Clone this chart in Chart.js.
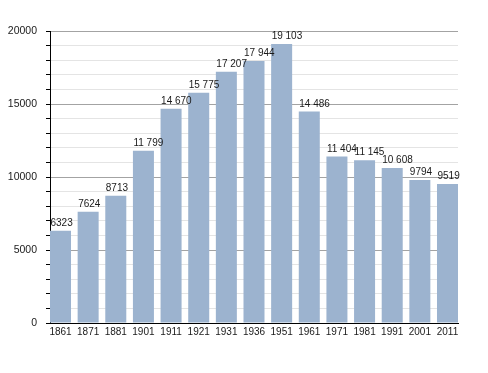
<!DOCTYPE html>
<html lang="en">
<head>
    <meta charset="UTF-8">
    <title>Population</title>
    <script src="https://cdn.jsdelivr.net/npm/chart.js"></script>
    <style>
        body { margin: 0; background: #fff; }
        #wrap { width: 488px; height: 373px; }
    </style>
</head>
<body>
    <div id="wrap"><canvas id="popChart" width="488" height="373"></canvas></div>

    <script>
        // census years and population
        const years = ['1861', '1871', '1881', '1901', '1911', '1921', '1931', '1936', '1951', '1961', '1971', '1981', '1991', '2001', '2011'];
        const population = [6323, 7624, 8713, 11799, 14670, 15775, 17207, 17944, 19103, 14486, 11404, 11145, 10608, 9794, 9519];
        const yTicks = [0, 5000, 10000, 15000, 20000];

        function fmt(v) {
            if (v < 10000) return String(v);
            const s = String(v);
            return s.slice(0, s.length - 3) + ' ' + s.slice(-3);
        }

        // value labels, left aligned on each bar
        const valueLabels = {
            id: 'valueLabels',
            afterDatasetsDraw(chart) {
                const ctx = chart.ctx;
                const meta = chart.getDatasetMeta(0);
                ctx.save();
                ctx.font = '10px "Liberation Sans", Arial, sans-serif';
                ctx.fillStyle = '#1a1a1a';
                ctx.textAlign = 'left';
                ctx.textBaseline = 'alphabetic';
                meta.data.forEach((bar, i) => {
                    ctx.fillText(fmt(population[i]), bar.x - bar.width / 2 + 0.5, bar.y - 5);
                });
                ctx.restore();
            }
        };

        const chart = new Chart(document.getElementById('popChart'), {
            type: 'bar',
            data: {
                datasets: [{
                    data: population.map((v, i) => ({ x: i, y: v })),
                    backgroundColor: '#9cb3cf',
                    borderWidth: 0,
                    categoryPercentage: 1,
                    barPercentage: 0.76
                }]
            },
            options: {
                responsive: false,
                animation: false,
                layout: { padding: { left: 0, right: 30, top: 31, bottom: 0 } },
                plugins: {
                    legend: { display: false },
                    tooltip: { enabled: false }
                },
                scales: {
                    x: {
                        type: 'linear',
                        offset: false,
                        min: -0.38,
                        max: 14.38,
                        afterBuildTicks: (scale) => {
                            scale.ticks = years.map((_, i) => ({ value: i }));
                        },
                        afterFit: (scale) => { scale.height = 50; },
                        grid: { display: false, drawTicks: false, offset: false },
                        border: { display: true, color: '#000', width: 1 },
                        ticks: {
                            autoSkip: false,
                            maxRotation: 0,
                            padding: 3,
                            color: '#1a1a1a',
                            font: { family: '"Liberation Sans", Arial, sans-serif', size: 10 },
                            callback: (v) => years[v]
                        }
                    },
                    y: {
                        min: 0,
                        max: 20000,
                        afterBuildTicks: (scale) => {
                            const t = [];
                            for (let v = 0; v <= 20000; v += 1000) t.push({ value: v });
                            scale.ticks = t;
                        },
                        afterFit: (scale) => { scale.width = 50; },
                        border: { display: true, color: '#000', width: 1 },
                        grid: {
                            color: (c) => (c.tick && c.tick.value % 5000 === 0) ? '#a3a3a3' : '#e4e4e4',
                            tickColor: '#000',
                            tickLength: 4
                        },
                        ticks: {
                            autoSkip: false,
                            padding: 9,
                            color: '#1a1a1a',
                            font: { family: '"Liberation Sans", Arial, sans-serif', size: 10.5 },
                            callback: (v) => yTicks.includes(v) ? String(v) : ''
                        }
                    }
                }
            },
            plugins: [valueLabels]
        });
    </script>
</body>
</html>
